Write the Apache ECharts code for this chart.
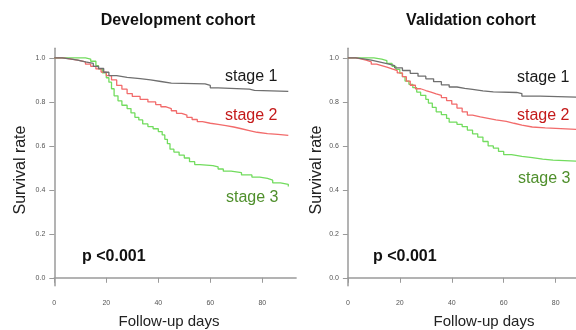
<!DOCTYPE html>
<html>
<head>
<meta charset="utf-8">
<script src="https://cdn.jsdelivr.net/npm/echarts@6/dist/echarts.min.js"></script>
<style>html,body{margin:0;padding:0;background:#fff}#c{width:576px;height:330px}</style>
</head>
<body>
<div id="c"></div>
<script>
// ---- data (days, survival rate) ----
var panelTitles = ['Development cohort', 'Validation cohort'];
var stageNames = ['stage 1', 'stage 2', 'stage 3'];
var pValueText = 'p <0.001';
var xTicks = [0, 20, 40, 60, 80];
var yTicks = [0, 0.2, 0.4, 0.6, 0.8, 1.0];

var devStage1 = [[0,1],[3,0.996],[6,0.99],[9,0.982],[12,0.975],[15,0.962],[17,0.952],[19,0.935],[21,0.92],[24,0.912],[28,0.906],[33,0.9],[37,0.893],[41,0.886],[45,0.882],[58,0.875],[60,0.864],[63,0.858],[75,0.853],[77,0.848],[90,0.846]];
var devStage2 = [[0,1],[3,0.996],[6,0.99],[9,0.982],[12,0.972],[14,0.962],[16,0.95],[18,0.936],[20,0.92],[22,0.9],[24,0.875],[26,0.858],[28,0.838],[30,0.825],[33,0.812],[36,0.8],[39,0.788],[41,0.778],[43,0.77],[45,0.76],[47,0.748],[49,0.74],[51,0.73],[53,0.72],[55,0.71],[57,0.703],[60,0.698],[63,0.692],[66,0.686],[69,0.678],[72,0.67],[75,0.662],[78,0.656],[82,0.652],[86,0.648],[90,0.646]];
var devStage3 = [[0,1],[12,0.995],[14,0.985],[16,0.965],[17,0.95],[18.5,0.932],[20,0.91],[21,0.89],[22,0.86],[23,0.828],[24.5,0.805],[26,0.785],[28,0.77],[29.5,0.75],[31,0.73],[32.5,0.718],[34,0.7],[36,0.688],[38,0.678],[40,0.665],[41.5,0.65],[42.5,0.63],[43.5,0.61],[44.5,0.585],[46,0.572],[48,0.558],[50,0.545],[52,0.528],[54,0.515],[56,0.51],[61,0.505],[63,0.495],[65,0.485],[68,0.478],[72,0.468],[76,0.458],[79,0.452],[82,0.444],[84,0.432],[87,0.425],[90,0.415]];

var valStage1 = [[0,1],[3,0.996],[6,0.99],[9,0.982],[12,0.974],[15,0.965],[18,0.955],[21,0.943],[24,0.93],[27,0.917],[30,0.905],[33,0.892],[36,0.878],[39,0.868],[42,0.862],[45,0.857],[48,0.85],[52,0.846],[56,0.843],[65,0.838],[67,0.826],[74,0.82],[95,0.818]];
var valStage2 = [[0,1],[3,0.996],[5,0.99],[7,0.982],[9,0.972],[11,0.965],[13,0.958],[15,0.95],[17,0.942],[19,0.932],[21,0.915],[22.5,0.895],[24,0.876],[26,0.86],[28,0.852],[30,0.845],[32,0.837],[34,0.83],[36,0.82],[38,0.806],[40,0.79],[42,0.772],[44,0.755],[46,0.74],[48,0.732],[51,0.725],[54,0.718],[57,0.712],[61,0.703],[64,0.695],[67,0.686],[71,0.682],[76,0.679],[82,0.675],[88,0.67],[95,0.668]];
var valStage3 = [[0,1],[10,0.995],[13,0.988],[15,0.975],[17,0.962],[18.5,0.948],[20,0.93],[21,0.915],[22,0.895],[23.5,0.88],[25,0.865],[26.5,0.845],[28,0.83],[30,0.812],[31,0.795],[32.5,0.775],[34,0.755],[36,0.742],[38,0.725],[39,0.708],[42,0.698],[44,0.688],[46,0.672],[48,0.655],[50,0.64],[52,0.62],[54,0.6],[56,0.59],[58,0.575],[60,0.56],[63,0.552],[67,0.547],[71,0.54],[75,0.535],[79,0.527],[95,0.525]];

// ---- styling ----
var FONT = 'Arial, "Liberation Sans", sans-serif';
var lineColors = ['#6f6f6f', '#f26b6b', '#72dc5e'];
var labelColors = ['#1a1a1a', '#c41a1a', '#4f8f2c'];
var axisGray = '#9a9a9a';

var chart = echarts.init(document.getElementById('c'), null, {renderer: 'canvas'});

function xAxisFor(i) {
  return {
    type: 'value', gridIndex: i, min: 0, max: 93,
    axisLine: {show: true, lineStyle: {color: axisGray, width: 1.5}},
    axisTick: {show: true, length: 5, customValues: xTicks, lineStyle: {color: axisGray, width: 1}},
    axisLabel: {show: true, customValues: xTicks, margin: 14, color: '#555', fontSize: 7, fontFamily: FONT,
      formatter: function (v) { return xTicks.indexOf(v) >= 0 ? String(v) : ''; }},
    splitLine: {show: false}
  };
}
function yAxisFor(i) {
  return {
    type: 'value', gridIndex: i, min: -0.036, max: 1.044,
    axisLine: {show: true, lineStyle: {color: axisGray, width: 1.5}},
    axisTick: {show: true, length: 5, customValues: yTicks, lineStyle: {color: axisGray, width: 1}},
    axisLabel: {show: true, customValues: yTicks, margin: 9, color: '#555', fontSize: 7, fontFamily: FONT,
      formatter: function (v) { return v.toFixed(1); }},
    splitLine: {show: false}
  };
}
function ser(data, gi, ci) {
  return {
    type: 'line', xAxisIndex: gi, yAxisIndex: gi, data: data, step: 'end',
    showSymbol: false, symbol: 'none', silent: true, animation: false,
    lineStyle: {color: lineColors[ci], width: 1.3}, z: 3 - ci
  };
}

var texts = [];
function txt(x, y, s, opts) {
  var st = {text: s, fill: opts.fill || '#111',
    font: (opts.weight || 'normal') + ' ' + (opts.size || 16) + 'px ' + FONT,
    textAlign: opts.align || 'left', textVerticalAlign: 'middle',
    align: opts.align || 'left', verticalAlign: 'middle'};
  var el = {type: 'text', x: x, y: y, style: st, silent: true};
  if (opts.rotation) el.rotation = opts.rotation;
  texts.push(el);
}
// titles
txt(178, 21, panelTitles[0], {weight: 'bold', size: 16, align: 'center', fill: '#111'});
txt(471, 21, panelTitles[1], {weight: 'bold', size: 16, align: 'center', fill: '#111'});
// axis names
txt(21, 170, 'Survival rate', {size: 16, align: 'center', fill: '#222', rotation: Math.PI / 2});
txt(317, 170, 'Survival rate', {size: 16, align: 'center', fill: '#222', rotation: Math.PI / 2});
txt(169, 322, 'Follow-up days', {size: 15, align: 'center', fill: '#222'});
txt(484, 322, 'Follow-up days', {size: 15, align: 'center', fill: '#222'});
// p values
txt(82, 257, pValueText, {weight: 'bold', size: 16, fill: '#111'});
txt(373, 257, pValueText, {weight: 'bold', size: 16, fill: '#111'});
// stage labels
txt(225, 77, stageNames[0], {size: 16, fill: labelColors[0]});
txt(225, 116, stageNames[1], {size: 16, fill: labelColors[1]});
txt(226, 198, stageNames[2], {size: 16, fill: labelColors[2]});
txt(517, 77.5, stageNames[0], {size: 16, fill: labelColors[0]});
txt(517, 116, stageNames[1], {size: 16, fill: labelColors[1]});
txt(518, 179, stageNames[2], {size: 16, fill: labelColors[2]});

chart.setOption({
  backgroundColor: '#ffffff',
  animation: false,
  grid: [
    {left: 54.3, top: 48.3, width: 241.8, height: 237.4, containLabel: false, outerBoundsMode: 'none'},
    {left: 347.9, top: 48.3, width: 241.5, height: 237.4, containLabel: false, outerBoundsMode: 'none'}
  ],
  xAxis: [xAxisFor(0), xAxisFor(1)],
  yAxis: [yAxisFor(0), yAxisFor(1)],
  series: [
    ser(devStage1, 0, 0), ser(devStage2, 0, 1), ser(devStage3, 0, 2),
    ser(valStage1, 1, 0), ser(valStage2, 1, 1), ser(valStage3, 1, 2)
  ],
  graphic: {elements: texts}
});
</script>
</body>
</html>
